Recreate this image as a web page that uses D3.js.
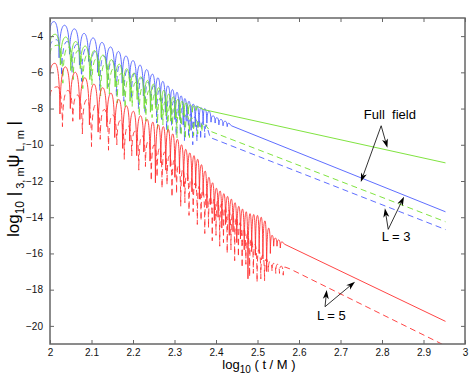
<!DOCTYPE html>
<html>
<head>
<meta charset="utf-8">
<script src="https://cdnjs.cloudflare.com/ajax/libs/d3/7.8.5/d3.min.js"></script>
<style>
  body { margin: 0; background: #fff; }
  text { font-family: "Liberation Sans", Arial, Helvetica, sans-serif; }
</style>
</head>
<body>
<div id="chart"></div>
<script>
// Axis ticks
const xTicks = [2, 2.1, 2.2, 2.3, 2.4, 2.5, 2.6, 2.7, 2.8, 2.9, 3];
const yTicks = [-4, -6, -8, -10, -12, -14, -16, -18, -20];

// Ringing part: start, then alternating peak / cusp turning points [log10 t, log10 |psi|]
const blueSolid = [[2.000,-3.7],
  [2.010,-3.2],[2.022,-5.2],[2.035,-3.4],[2.047,-5.0],[2.059,-3.6],[2.071,-5.6],[2.082,-3.85],[2.093,-5.4],
  [2.104,-4.1],[2.115,-6.0],[2.125,-4.35],[2.136,-5.8],[2.146,-4.6],[2.156,-6.3],[2.165,-4.85],[2.174,-6.6],
  [2.183,-5.1],[2.192,-6.5],[2.200,-5.35],[2.209,-7.0],[2.217,-5.6],[2.225,-7.3],[2.233,-5.85],[2.240,-7.0],
  [2.247,-6.1],[2.254,-7.8],[2.260,-6.3],[2.266,-7.6],[2.272,-6.5],[2.278,-8.2],[2.284,-6.75],[2.290,-8.0],
  [2.295,-6.95],[2.301,-8.6],[2.306,-7.1],[2.311,-8.4],[2.316,-7.3],[2.321,-8.9],[2.325,-7.45],[2.330,-8.7],
  [2.335,-7.6],[2.340,-9.2],[2.345,-7.75],[2.350,-9.0],[2.354,-7.85],[2.359,-9.0],[2.364,-7.95],[2.369,-8.9],
  [2.373,-8.0],[2.378,-8.8],[2.383,-8.15],[2.388,-8.75],[2.393,-8.4],[2.398,-8.8],[2.402,-8.5],[2.407,-8.9],
  [2.412,-8.6],[2.417,-8.95],[2.422,-8.7],[2.427,-9.0],[2.431,-8.8]];
const blueSolidTail = [[2.437,-8.95],[2.953,-13.7]];

const blueDashed = [[2.000,-4.6],
  [2.016,-4.2],[2.028,-6.2],[2.041,-4.3],[2.053,-6.0],[2.065,-4.45],[2.076,-6.5],[2.088,-4.65],[2.098,-6.3],
  [2.109,-4.85],[2.120,-7.0],[2.130,-5.1],[2.140,-6.8],[2.150,-5.35],[2.160,-7.3],[2.169,-5.6],[2.178,-7.6],
  [2.187,-5.85],[2.196,-7.5],[2.204,-6.05],[2.213,-8.0],[2.221,-6.3],[2.229,-8.3],[2.236,-6.55],[2.243,-8.1],
  [2.250,-6.75],[2.257,-8.8],[2.263,-7.0],[2.269,-8.6],[2.275,-7.2],[2.281,-9.2],[2.287,-7.4],[2.293,-9.0],
  [2.298,-7.6],[2.304,-9.5],[2.309,-7.8],[2.314,-9.4],[2.319,-7.95],[2.324,-9.8],[2.329,-8.1],[2.334,-9.6],
  [2.339,-8.3],[2.344,-10.0],[2.349,-8.45],[2.354,-9.8],[2.358,-8.6],[2.363,-9.7],[2.368,-8.75],[2.373,-9.6],
  [2.377,-8.9]];
const blueDashedTail = [[2.386,-9.6],[2.953,-14.68]];

const greenSolid = [[2.000,-4.4],
  [2.013,-3.9],[2.025,-5.6],[2.038,-4.05],[2.050,-5.9],[2.062,-4.3],[2.073,-5.8],[2.085,-4.55],[2.096,-6.4],
  [2.107,-4.8],[2.117,-6.2],[2.128,-5.05],[2.138,-6.9],[2.148,-5.3],[2.157,-6.8],[2.167,-5.55],[2.176,-7.3],
  [2.185,-5.8],[2.193,-7.6],[2.202,-6.05],[2.210,-7.5],[2.219,-6.25],[2.227,-8.0],[2.235,-6.45],[2.242,-8.2],
  [2.249,-6.65],[2.255,-8.0],[2.262,-6.85],[2.268,-8.5],[2.274,-7.0],[2.280,-8.4],[2.286,-7.2],[2.291,-8.7],
  [2.297,-7.35],[2.302,-8.5],[2.308,-7.5],[2.313,-8.6],[2.318,-7.6],[2.323,-8.4],[2.328,-7.7],[2.333,-8.3],
  [2.338,-7.8],[2.343,-8.2],[2.348,-7.85],[2.352,-8.1],[2.357,-7.9]];
const greenSolidTail = [[2.369,-8.05],[2.953,-11.0]];

const greenDashed = [[2.000,-5.0],
  [2.019,-4.5],[2.031,-6.6],[2.044,-4.6],[2.056,-6.4],[2.068,-4.8],[2.079,-6.9],[2.091,-5.0],[2.101,-6.7],
  [2.112,-5.25],[2.122,-7.3],[2.133,-5.5],[2.143,-7.2],[2.153,-5.8],[2.162,-7.7],[2.172,-6.05],[2.181,-8.0],
  [2.190,-6.3],[2.198,-7.9],[2.207,-6.55],[2.215,-8.4],[2.224,-6.8],[2.231,-8.7],[2.239,-7.0],[2.246,-8.5],
  [2.253,-7.2],[2.259,-9.1],[2.266,-7.4],[2.272,-8.9],[2.278,-7.6],[2.284,-9.4],[2.290,-7.8],[2.295,-9.2],
  [2.301,-7.95],[2.306,-9.6],[2.311,-8.1],[2.316,-9.5],[2.321,-8.25],[2.326,-9.7],[2.331,-8.4],[2.336,-9.6],
  [2.341,-8.5],[2.346,-9.5],[2.351,-8.6],[2.356,-9.4],[2.361,-8.7],[2.366,-9.3],[2.371,-8.8]];
const greenDashedTail = [[2.386,-9.25],[2.953,-14.25]];

const redSolid = [[2.000,-6.1],
  [2.012,-5.5],[2.024,-8.3],[2.037,-5.7],[2.049,-8.0],[2.061,-6.0],[2.072,-8.6],[2.084,-6.3],[2.095,-8.9],
  [2.106,-6.65],[2.116,-9.3],[2.127,-6.85],[2.137,-9.0],[2.147,-7.15],[2.156,-9.6],[2.166,-7.5],[2.175,-10.2],
  [2.184,-7.85],[2.192,-9.8],[2.201,-8.15],[2.209,-10.6],[2.218,-8.4],[2.226,-10.4],[2.234,-8.6],[2.241,-10.9],
  [2.248,-8.75],[2.254,-12.1],[2.261,-8.9],[2.267,-11.0],[2.273,-9.0],[2.279,-11.4],[2.285,-9.15],[2.290,-11.2],
  [2.296,-9.4],[2.301,-11.8],[2.307,-9.7],[2.312,-11.6],[2.317,-10.0],[2.322,-12.3],[2.327,-10.25],[2.332,-12.0],
  [2.337,-10.45],[2.342,-12.6],[2.347,-10.6],[2.351,-12.4],[2.356,-10.8],[2.360,-13.0],[2.365,-11.1],[2.369,-12.8],
  [2.374,-11.45],[2.378,-13.5],[2.383,-11.8],[2.387,-13.3],[2.392,-12.1],[2.396,-14.2],[2.401,-12.4],[2.405,-14.0],
  [2.410,-12.55],[2.414,-14.6],[2.419,-12.7],[2.423,-14.4],[2.428,-12.85],[2.432,-15.0],[2.437,-13.0],[2.441,-14.8],
  [2.446,-13.2],[2.450,-15.4],[2.455,-13.4],[2.459,-15.2],[2.464,-13.55],[2.468,-15.8],[2.473,-13.7],[2.477,-17.4],
  [2.482,-13.8],[2.486,-15.9],[2.491,-13.85],[2.495,-16.1],[2.500,-13.9],[2.504,-16.0],[2.509,-14.0],[2.513,-16.3],
  [2.518,-14.2],[2.522,-17.0],[2.527,-14.6],[2.531,-16.0],[2.535,-15.0],[2.539,-15.6],[2.543,-15.15],[2.547,-15.6],
  [2.551,-15.25],[2.555,-15.7],[2.559,-15.35]];
const redSolidTail = [[2.566,-15.5],[2.953,-19.75]];

const redDashed = [[2.000,-7.3],
  [2.018,-6.8],[2.030,-9.0],[2.043,-7.0],[2.055,-8.7],[2.066,-7.25],[2.078,-9.4],[2.089,-7.5],[2.100,-10.1],
  [2.110,-7.8],[2.121,-9.7],[2.131,-8.05],[2.141,-10.3],[2.151,-8.35],[2.161,-10.0],[2.170,-8.65],[2.179,-10.8],
  [2.188,-8.95],[2.197,-10.6],[2.205,-9.25],[2.214,-11.4],[2.222,-9.5],[2.230,-11.2],[2.237,-9.8],[2.244,-12.0],
  [2.251,-10.0],[2.258,-11.8],[2.264,-10.2],[2.270,-12.4],[2.276,-10.4],[2.282,-12.2],[2.288,-10.6],[2.294,-12.9],
  [2.299,-10.85],[2.305,-12.7],[2.310,-11.1],[2.315,-13.4],[2.320,-11.35],[2.325,-13.2],[2.330,-11.6],[2.335,-13.9],
  [2.340,-11.85],[2.345,-13.7],[2.350,-12.1],[2.355,-14.4],[2.359,-12.3],[2.364,-14.2],[2.368,-12.5],[2.373,-14.9],
  [2.377,-12.7],[2.382,-14.6],[2.386,-12.85],[2.391,-15.3],[2.395,-13.0],[2.400,-15.0],[2.404,-13.1],[2.409,-15.6],
  [2.413,-13.25],[2.418,-15.4],[2.422,-13.4],[2.427,-16.0],[2.431,-13.6],[2.436,-15.8],[2.440,-13.8],[2.445,-16.4],
  [2.449,-14.0],[2.454,-16.2],[2.458,-14.3],[2.463,-16.8],[2.467,-14.6],[2.472,-16.6],[2.476,-14.9],[2.481,-17.3],
  [2.485,-15.2],[2.490,-17.1],[2.494,-15.5],[2.499,-17.6],[2.503,-15.8],[2.508,-17.4],[2.512,-16.1],[2.517,-17.5],
  [2.521,-16.3],[2.526,-17.0],[2.530,-16.45],[2.535,-17.0],[2.539,-16.55],[2.544,-17.1],[2.548,-16.6],[2.553,-17.1],
  [2.557,-16.7],[2.562,-17.2],[2.566,-16.75]];
const redDashedTail = [[2.578,-16.85],[2.953,-21.1]];

// Annotations: label position and arrows (from, to) in data units
const labels = [
  {text: "Full  field", at: [2.819, -8.57]},
  {text: "L = 3", at: [2.834, -15.31]},
  {text: "L = 5", at: [2.678, -19.68]}
];
const arrows = [
  [[2.798, -8.95], [2.813, -10.17]],
  [[2.798, -8.95], [2.749, -12.05]],
  [[2.815, -14.67], [2.807, -13.51]],
  [[2.815, -14.67], [2.853, -12.87]],
  [[2.6627, -18.94], [2.6667, -18.02]],
  [[2.6627, -18.94], [2.735, -17.56]]
];

function drawChart(){
    let margin = {"top": 18, "bottom": 35, "left": 50, "right": 6};
    let width = 471 - margin.left - margin.right;
    let height = 379 - margin.top - margin.bottom;

    let svg = d3.select("#chart").append("svg")
        .attr("width", 471)
        .attr("height", 379)
        .style("background", "#fff")
        .append("g")
        .attr("transform", "translate(" + margin.left + ", " + margin.top + ")");

    let x = d3.scaleLinear().domain([2, 3]).range([0, width]);
    let y = d3.scaleLinear().domain([-21, -3]).range([height, 0]);

    svg.append("clipPath").attr("id", "plotClip")
        .append("rect").attr("width", width).attr("height", height);

    let series = [
        {pts: blueSolid, tail: blueSolidTail, color: "#4d5dff", dash: null},
        {pts: blueDashed, tail: blueDashedTail, color: "#4d5dff", dash: "6,4"},
        {pts: greenSolid, tail: greenSolidTail, color: "#72e02a", dash: null},
        {pts: greenDashed, tail: greenDashedTail, color: "#72e02a", dash: "6,4"},
        {pts: redSolid, tail: redSolidTail, color: "#ff3030", dash: null},
        {pts: redDashed, tail: redDashedTail, color: "#ff3030", dash: "6,4"}
    ];

    // arches between turning points: steep near cusps, flat at peaks
    function ringPath(pts, tail){
        let p = d3.path();
        let s = pts.map(d => [x(d[0]), y(d[1])]);
        p.moveTo(s[0][0], s[0][1]);
        for(let i = 1; i < s.length; i++){
            let [x0, y0] = s[i-1], [x1, y1] = s[i];
            let dx = x1 - x0;
            if(y1 < y0){
                p.bezierCurveTo(x0 + 0.08*dx, y0 + 0.8*(y1 - y0), x1 - 0.45*dx, y1, x1, y1);
            } else {
                p.bezierCurveTo(x0 + 0.45*dx, y0, x1 - 0.08*dx, y1 - 0.8*(y1 - y0), x1, y1);
            }
        }
        tail.forEach(d => p.lineTo(x(d[0]), y(d[1])));
        return p.toString();
    }

    let lines = svg.append("g").attr("clip-path", "url(#plotClip)");
    lines.selectAll("path")
        .data(series)
        .enter().append("path")
        .attr("d", d => ringPath(d.pts, d.tail))
        .attr("fill", "none")
        .attr("stroke", d => d.color)
        .attr("stroke-width", 0.9)
        .attr("stroke-dasharray", d => d.dash);

    // Axes (MATLAB style box, ticks inside)
    let axisColor = "#666";
    function styleAxis(g){
        g.select(".domain").remove();
        g.selectAll(".tick line").attr("stroke", axisColor).attr("stroke-width", 1);
        g.selectAll(".tick text").attr("fill", "#111").style("font-size", "10px")
            .style("font-family", "'Liberation Sans', Arial, sans-serif");
    }

    svg.append("g").attr("transform", "translate(0," + height + ")")
        .call(d3.axisBottom(x).tickValues(xTicks).tickSize(-4).tickPadding(5).tickFormat(d3.format("")))
        .call(styleAxis);
    svg.append("g")
        .call(d3.axisTop(x).tickValues(xTicks).tickSize(-4).tickFormat(""))
        .call(styleAxis);
    svg.append("g")
        .call(d3.axisLeft(y).tickValues(yTicks).tickSize(-4).tickPadding(7))
        .call(styleAxis);
    svg.append("g").attr("transform", "translate(" + width + ",0)")
        .call(d3.axisRight(y).tickValues(yTicks).tickSize(-4).tickFormat(""))
        .call(styleAxis);

    svg.append("rect")
        .attr("width", width).attr("height", height)
        .attr("fill", "none").attr("stroke", axisColor).attr("stroke-width", 1.5);

    // Annotations
    svg.selectAll(".note")
        .data(labels)
        .enter().append("text")
        .attr("class", "note")
        .attr("x", d => x(d.at[0]))
        .attr("y", d => y(d.at[1]))
        .attr("text-anchor", "middle")
        .style("font-size", "13px")
        .style("white-space", "pre")
        .attr("fill", "#000")
        .text(d => d.text);

    let arrowG = svg.append("g");
    arrows.forEach(a => {
        let x0 = x(a[0][0]), y0 = y(a[0][1]), x1 = x(a[1][0]), y1 = y(a[1][1]);
        let ang = Math.atan2(y1 - y0, x1 - x0);
        let len = 9, hw = 3, notch = 6.5;
        let ca = Math.cos(ang), sa = Math.sin(ang);
        let bx = x1 - len*ca, by = y1 - len*sa;
        let nx = x1 - notch*ca, ny = y1 - notch*sa;
        arrowG.append("line")
            .attr("x1", x0).attr("y1", y0).attr("x2", nx).attr("y2", ny)
            .attr("stroke", "#000").attr("stroke-width", 0.8);
        arrowG.append("path")
            .attr("d", "M" + x1 + "," + y1 +
                "L" + (bx - hw*sa) + "," + (by + hw*ca) +
                "L" + nx + "," + ny +
                "L" + (bx + hw*sa) + "," + (by - hw*ca) + "Z")
            .attr("fill", "#000");
    });

    // Axis labels
    let xl = svg.append("text")
        .attr("x", width / 2 + 1.5).attr("y", height + 25)
        .attr("text-anchor", "middle")
        .style("font-size", "13px").attr("fill", "#000");
    xl.append("tspan").text("log");
    xl.append("tspan").attr("dy", 4).style("font-size", "10px").text("10");
    xl.append("tspan").attr("dy", -4).style("white-space", "pre").text(" ( t / M )");

    let yl = svg.append("text")
        .attr("transform", "translate(" + (19 - margin.left) + "," + (179 - margin.top) + ") rotate(-90)")
        .attr("text-anchor", "middle")
        .style("font-size", "17px").attr("fill", "#000");
    yl.append("tspan").text("log");
    yl.append("tspan").attr("dy", 5).style("font-size", "12px").text("10");
    yl.append("tspan").attr("dy", -5).style("white-space", "pre").text(" |");
    yl.append("tspan").attr("dy", 5).style("font-size", "11px").style("white-space", "pre").text(" 3, m");
    yl.append("tspan").attr("dy", -5).style("font-size", "18px").text("ψ");
    yl.append("tspan").attr("dy", 5).style("font-size", "11px").style("white-space", "pre").text(" L, m");
    yl.append("tspan").attr("dy", -5).style("white-space", "pre").text(" |");
}

drawChart();
</script>
</body>
</html>
